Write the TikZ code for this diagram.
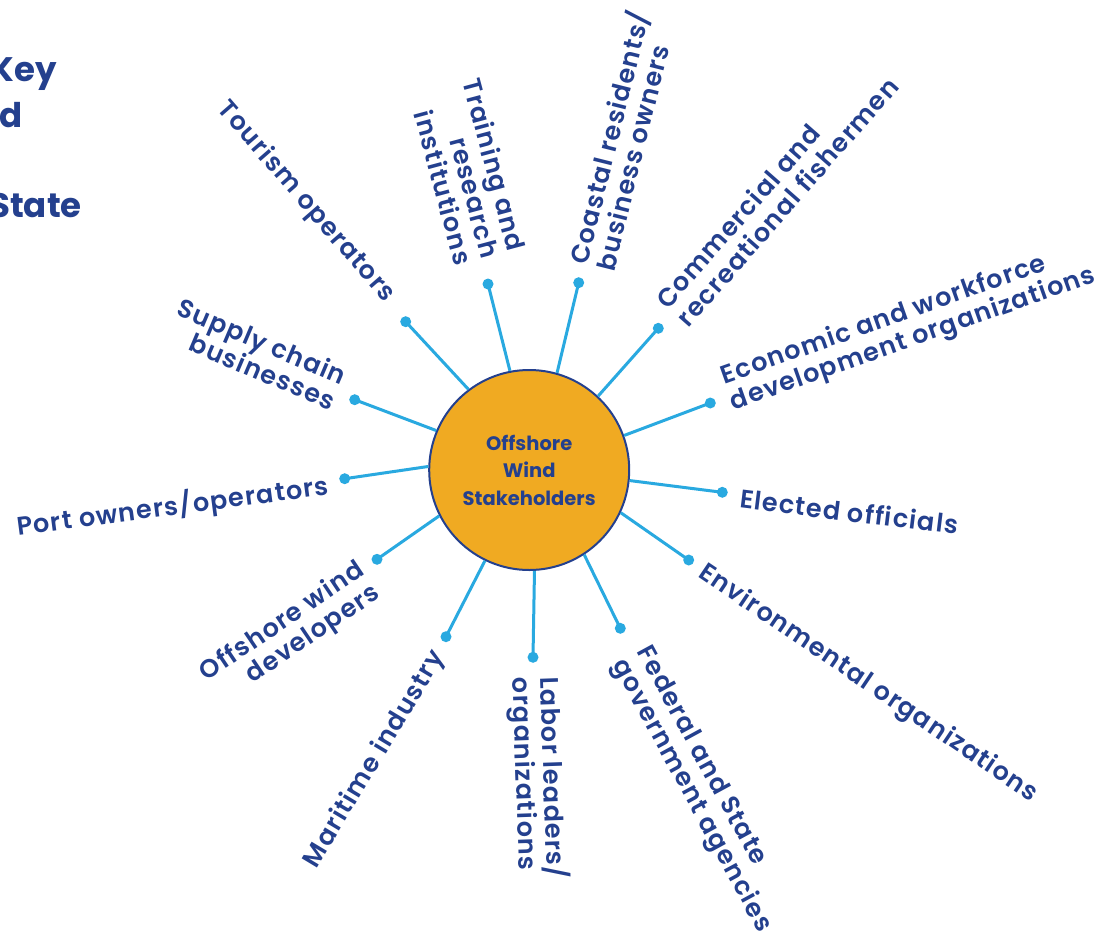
\documentclass[tikz,border=0pt]{standalone}
\usepackage{fontspec}
\setmainfont{Poppins}[UprightFont=* SemiBold, BoldFont=* Bold]
\newfontfamily\lblfont{Poppins}[UprightFont=* SemiBold, LetterSpace=4.5]
\definecolor{navycol}{HTML}{24408E}
\definecolor{spokecol}{HTML}{29A9E0}
\definecolor{hubcol}{HTML}{F0AA22}
\begin{document}
\begin{tikzpicture}[x=1pt,y=-1pt,
  lbl/.style={text=navycol, font=\lblfont\fontsize{25.5}{27.5}\selectfont, inner sep=0pt},
  head/.style={text=navycol, font=\bfseries\fontsize{34}{34}\selectfont, inner sep=0pt, anchor=base east},
  dotnode/.style={circle, fill=spokecol, minimum size=11pt, inner sep=0pt},
  spk/.style={draw=spokecol, line width=3pt},
  hub/.style={circle, fill=hubcol, draw=navycol, line width=2pt, minimum size=200pt, inner sep=0pt,
    text=navycol, font=\bfseries\fontsize{19.5}{27.5}\selectfont, align=center}]
\useasboundingbox (0,0) rectangle (1108,935);
\fill[white] (0,0) rectangle (1108,935);

% cut-off heading on the left
\node[head] (h1) at (57,81) {Key};
\node[head] (h2) at (23,127) {d};
\node[head] (h3) at (82,217) {State};

% hub
\node[hub] (c) at (529.2,470) {Offshore\\Wind\\Stakeholders};

% dots
\node[dotnode] (d1) at (405.7,321.7) {};
\node[dotnode] (d2) at (488,284) {};
\node[dotnode] (d3) at (578.7,282.7) {};
\node[dotnode] (d4) at (658.3,328.3) {};
\node[dotnode] (d5) at (710.3,403) {};
\node[dotnode] (d6) at (722.3,492.3) {};
\node[dotnode] (d7) at (688.7,560) {};
\node[dotnode] (d8) at (620.3,628.3) {};
\node[dotnode] (d9) at (533,657.3) {};
\node[dotnode] (d10) at (446,636.7) {};
\node[dotnode] (d11) at (377,559.3) {};
\node[dotnode] (d12) at (344.7,478.7) {};
\node[dotnode] (d13) at (354.7,399.7) {};

% spokes
\draw[spk] (c.127.7) -- (d1.center);
\draw[spk] (c.101.4) -- (d2.center);
\draw[spk] (c.74.2) -- (d3.center);
\draw[spk] (c.47.0) -- (d4.center);
\draw[spk] (c.20.3) -- (d5.center);
\draw[spk] (c.-6.4) -- (d6.center);
\draw[spk] (c.-25.3) -- (d7.center);
\draw[spk] (c.-57.8) -- (d8.center);
\draw[spk] (c.-87.8) -- (d9.center);
\draw[spk] (c.244.1) -- (d10.center);
\draw[spk] (c.207.5) -- (d11.center);
\draw[spk] (c.178.1) -- (d12.center);
\draw[spk] (c.157.7) -- (d13.center);

% labels
\node[lbl, anchor=east, rotate=-49, align=right] (l1) at (390,299) {Tourism operators};
\node[lbl, anchor=east, rotate=-75, align=right] (l2) at (491,257) {Training and\\research\\institutions};
\node[lbl, anchor=west, rotate=76, align=left] (l3) at (589,266) {Coastal residents/\\business owners};
\node[lbl, anchor=west, rotate=48.7, align=left] (l4) at (671,313) {Commercial and\\recreational fishermen};
\node[lbl, anchor=west, rotate=19.5, align=left] (l5) at (727,391) {Economic and workforce\\development organizations};
\node[lbl, anchor=west, rotate=-7, align=left] (l6) at (740,498) {Elected officials};
\node[lbl, anchor=west, rotate=-34, align=left] (l7) at (700.5,571) {Environmental organizations};
\node[lbl, anchor=west, rotate=-61.5, align=left] (l8) at (630,655) {Federal and State\\government agencies};
\node[lbl, anchor=west, rotate=-88, align=left] (l9) at (535,677) {Labor leaders/\\organizations};
\node[lbl, anchor=east, rotate=59, align=right] (l10) at (439,653) {Maritime industry};
\node[lbl, anchor=east, rotate=34, align=right] (l11) at (370,580) {Offshore wind\\developers};
\node[lbl, anchor=east, rotate=7.5, align=right] (l12) at (328.5,486) {Port owners/operators};
\node[lbl, anchor=east, rotate=-23, align=right] (l13) at (340,389) {Supply chain\\businesses};
\end{tikzpicture}
\end{document}
